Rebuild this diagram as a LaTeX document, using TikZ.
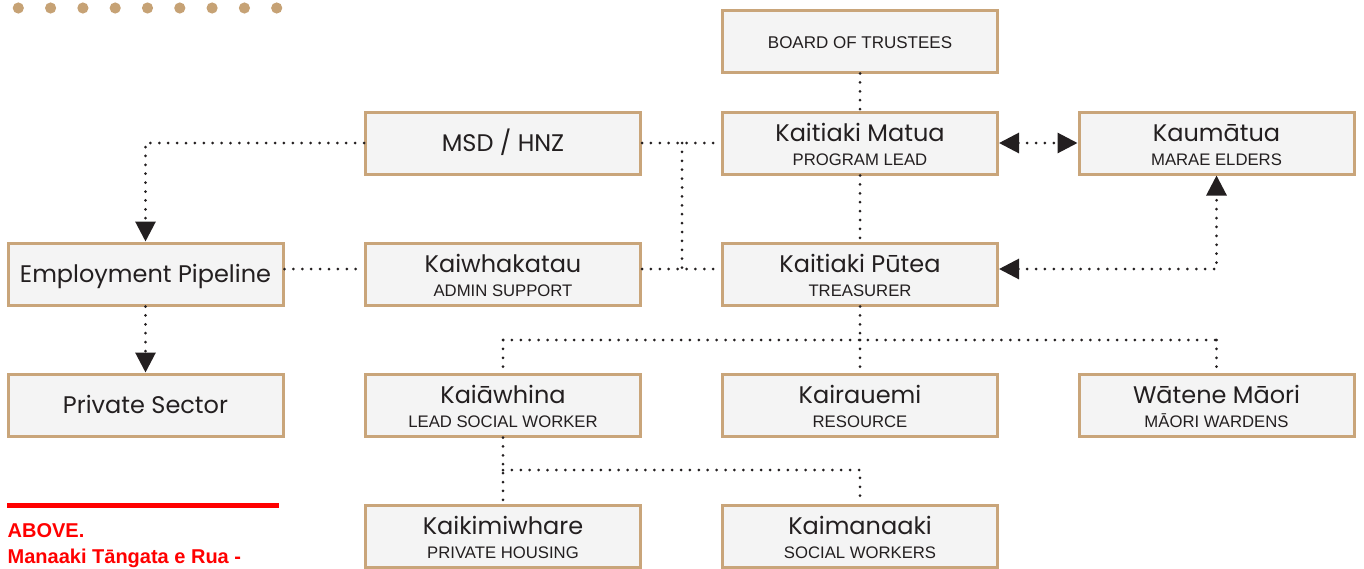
\documentclass[tikz,border=0pt]{standalone}
\usepackage{fontspec}
\setmainfont{Poppins}
\newfontfamily\subfont{Liberation Sans}
\usetikzlibrary{arrows.meta}
\definecolor{tan}{HTML}{C9A57A}
\definecolor{dotbrown}{HTML}{C6A275}
\definecolor{boxfill}{HTML}{F4F4F4}
\definecolor{ink}{HTML}{231F20}
\definecolor{capred}{HTML}{FF0000}
\tikzset{
  obox/.style={draw=tan, fill=boxfill, line width=3pt, minimum width=275pt, minimum height=62pt, inner sep=0pt},
  ttl/.style={font=\fontsize{24}{27}\selectfont, text=ink, inner sep=0pt, anchor=base},
  sub/.style={font=\subfont\fontsize{16.7}{19}\selectfont, text=ink, inner sep=0pt, anchor=base},
  dotline/.style={draw=ink, line width=3pt, line cap=round, dash pattern=on 0pt off 8.9pt},
  tip/.style={-{Triangle[length=20pt,width=20pt]}},
  tips/.style={{Triangle[length=20pt,width=20pt]}-{Triangle[length=20pt,width=20pt]}},
  captxt/.style={font=\subfont\bfseries\fontsize{20}{31}\selectfont, text=capred, anchor=base west, inner sep=0pt},
}
\newcommand\twobox[5]{%
  \node[obox] (#1) at (#2,#3) {};
  \node[ttl] (#1-t) at (#2,{#3-1.5}) {#4};
  \node[sub] (#1-s) at (#2,{#3+22}) {#5};
}
\newcommand\onebox[4]{%
  \node[obox] (#1) at (#2,#3) {};
  \node[ttl] (#1-t) at (#2,{#3+8.7}) {#4};
}
\begin{document}
\begin{tikzpicture}[x=1pt,y=-1pt]
\useasboundingbox (0,0) rectangle (1364,568);
\clip (0,0) rectangle (1364,568);
% top dots
\foreach \i in {0,...,8} {
  \fill[dotbrown] ({18.3+32.3*\i},8) circle (5.6);
}
% red rule and caption
\fill[capred] (7,503) rectangle (279,508);
\node[captxt] (cap1) at (7.5,537) {ABOVE.};
\node[captxt] (cap2) at (7.5,563.5) {Manaaki Tāngata e Rua -};
% boxes
\node[obox] (board) at (860,41) {};
\node[sub, font=\subfont\fontsize{17}{19}\selectfont] (board-t) at (860,48) {BOARD OF TRUSTEES};
\twobox{matua}{860}{143}{Kaitiaki Matua}{PROGRAM LEAD}
\twobox{kaum}{1216.5}{143}{Kaumātua}{MARAE ELDERS}
\onebox{msd}{503}{143}{MSD / HNZ}
\onebox{emp}{145.5}{274}{Employment Pipeline}
\twobox{kaiw}{503}{274}{Kaiwhakatau}{ADMIN SUPPORT}
\twobox{putea}{860}{274}{Kaitiaki Pūtea}{TREASURER}
\onebox{priv}{145.5}{405}{Private Sector}
\twobox{kaia}{503}{405}{Kaiāwhina}{LEAD SOCIAL WORKER}
\twobox{kair}{860}{405}{Kairauemi}{RESOURCE}
\twobox{wat}{1216.5}{405}{Wātene Māori}{MĀORI WARDENS}
\twobox{kaik}{503}{536}{Kaikimiwhare}{PRIVATE HOUSING}
\twobox{kaim}{860}{536}{Kaimanaaki}{SOCIAL WORKERS}
% junction coordinates
\coordinate (jm) at (682,143);
\coordinate (jp) at (682,269);
\coordinate (jk) at (1216.5,269);
\coordinate (je) at (145.5,143);
\coordinate (jt) at (860,340);
\coordinate (jtl) at (503,340);
\coordinate (jtr) at (1216.5,340);
\coordinate (jb) at (503,470);
\coordinate (jbr) at (860,470);
% connectors
\draw[dotline] (board.south) -- (matua.north);
\draw[dotline] (matua.south) -- (putea.north);
\draw[dotline, tips] (matua.east) -- (kaum.west);
\draw[dotline, tips] (putea.east |- jk) -- (jk) -- (kaum.south);
\draw[dotline] (msd.east) -- (matua.west);
\draw[dotline] (jm) -- (jp);
\draw[dotline] (kaiw.east |- jp) -- (putea.west |- jp);
\draw[dotline, tip] (msd.west) -- (je) -- (emp.north);
\draw[dotline] (emp.east |- jp) -- (kaiw.west |- jp);
\draw[dotline, tip] (emp.south) -- (priv.north);
\draw[dotline] (putea.south) -- (jt);
\draw[dotline] (jtl) -- (jtr);
\draw[dotline] (jtl) -- (kaia.north);
\draw[dotline] (jt) -- (kair.north);
\draw[dotline] (jtr) -- (wat.north);
\draw[dotline] (kaia.south) -- (kaik.north);
\draw[dotline] (jb) -- (jbr) -- (kaim.north);
\end{tikzpicture}
\end{document}
